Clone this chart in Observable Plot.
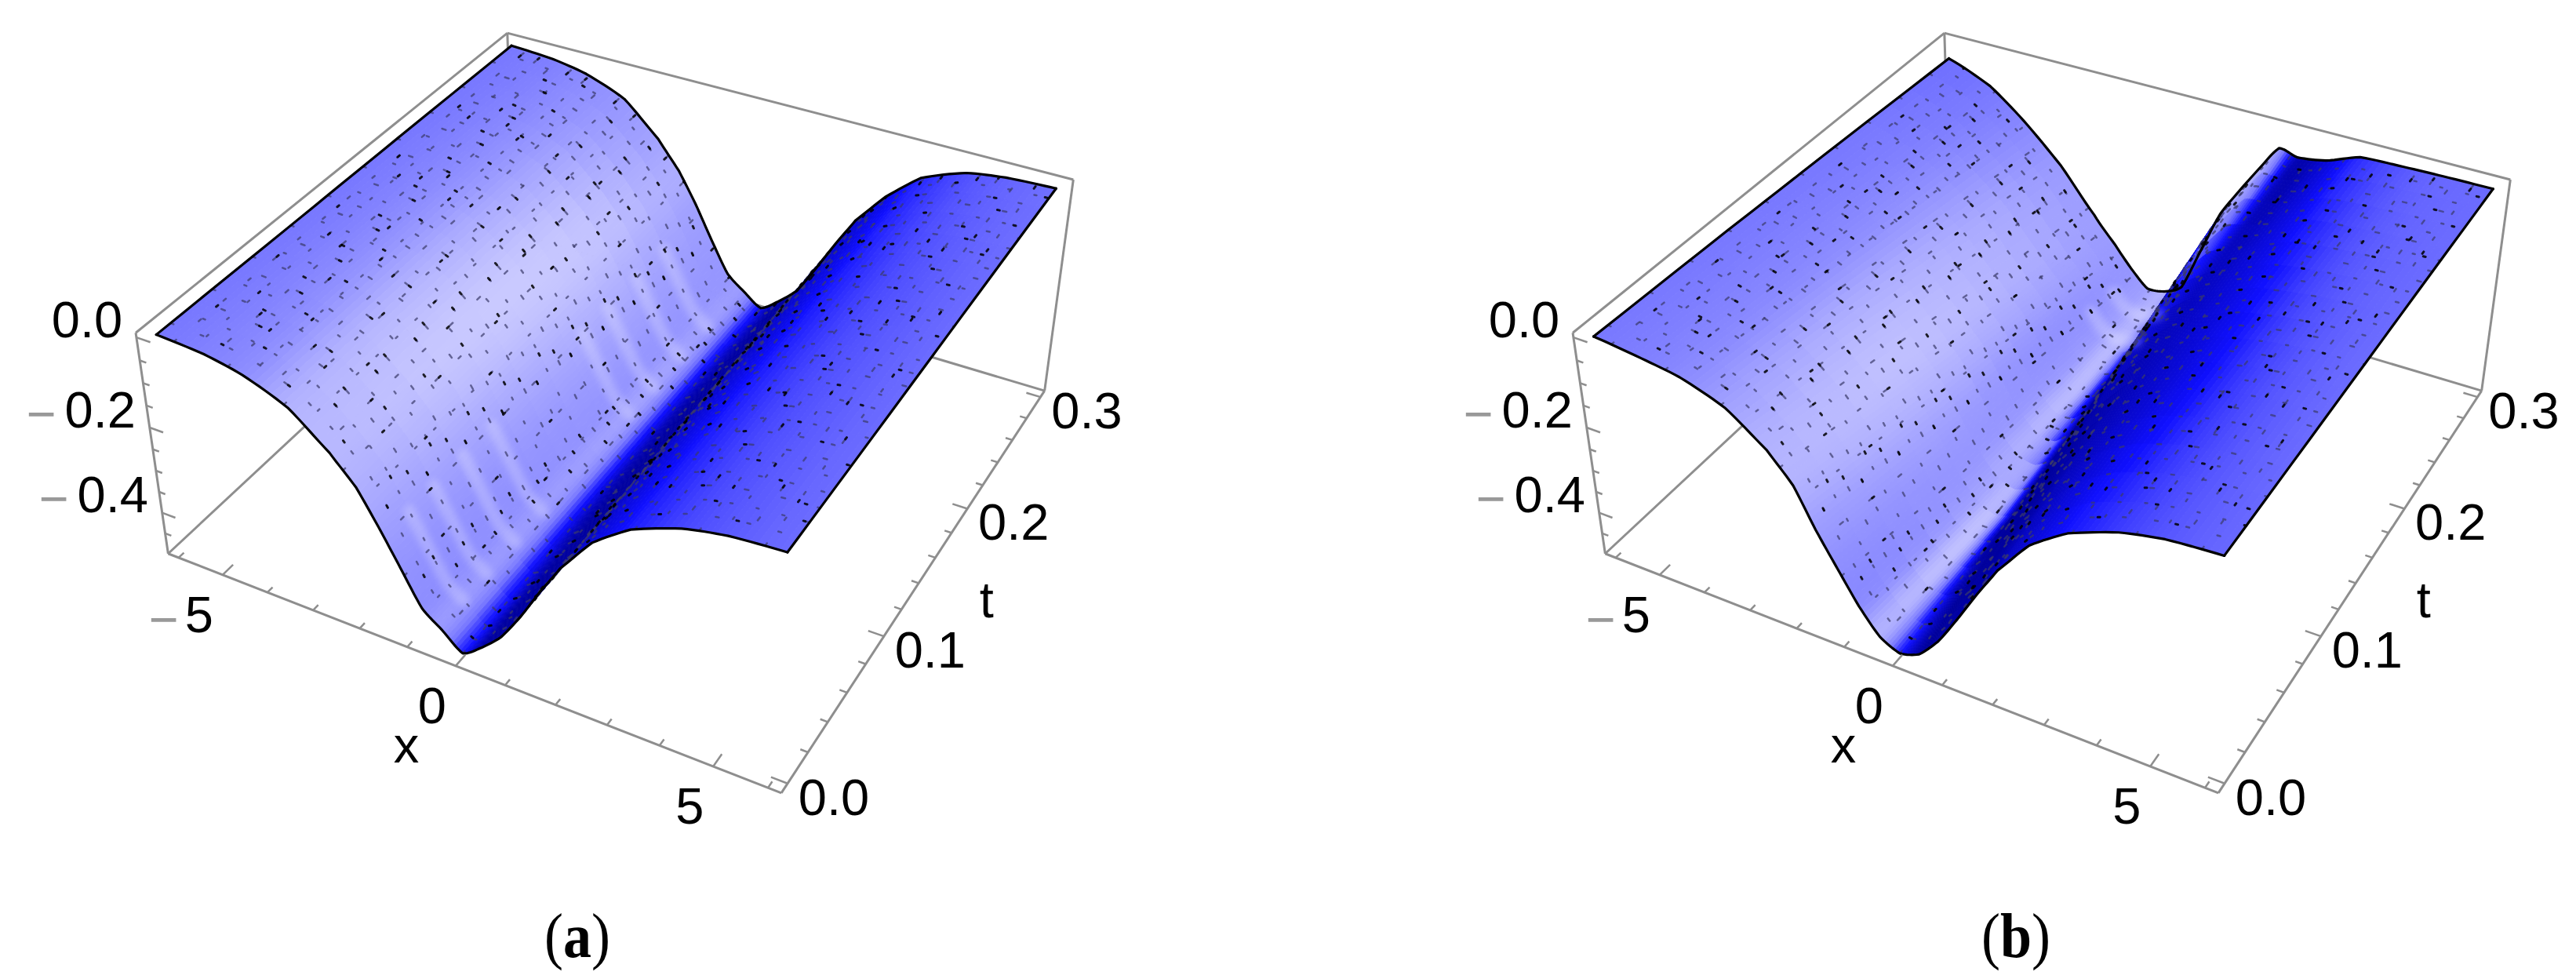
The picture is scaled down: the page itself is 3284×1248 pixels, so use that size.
<!DOCTYPE html>
<html><head><meta charset="utf-8">
<script src="https://cdn.jsdelivr.net/npm/d3@7"></script>
<script src="https://cdn.jsdelivr.net/npm/@observablehq/plot@0.6"></script>
<style>
body{margin:0;background:#fff;width:3284px}
#cap{position:relative;height:138px;width:3284px;font-family:"Liberation Serif",serif;font-size:72px;color:#000}
#cap span{position:absolute;top:41px;transform:translateX(-50%) scaleY(1.12);line-height:84px}
#cap b{font-weight:bold}
</style></head><body>
<div id="plot"></div>
<div id="cap"><span style="left:736px">(<b>a</b>)</span><span style="left:2570px">(<b>b</b>)</span></div>
<script>
// ---------- data ----------
const xs=[-6,-5,-4.2,-3.3,-2.5,-2,-1.6,-1.2,-.8,-.4,0,.4,.8,1.2,1.6,2,2.6,3.3,4.2,5,6];
const ts=[0,.1,.2,.3];
const zA_t0=[-.001,-.008,-.025,-.063,-.132,-.19,-.262,-.34,-.418,-.453,-.49,-.458,-.415,-.35,-.275,-.205,-.124,-.067,-.028,-.01,-.002];
const zA_t1=[-.002,-.008,-.025,-.062,-.133,-.193,-.265,-.343,-.42,-.455,-.489,-.458,-.415,-.348,-.273,-.203,-.124,-.064,-.026,-.01,-.003];
const zA_t2=[-.002,-.009,-.024,-.061,-.134,-.196,-.268,-.347,-.422,-.456,-.488,-.457,-.415,-.347,-.272,-.201,-.125,-.062,-.024,-.009,-.003];
const zA_t3=[-.003,-.009,-.024,-.06,-.135,-.2,-.27,-.35,-.424,-.458,-.487,-.456,-.415,-.345,-.27,-.2,-.125,-.06,-.022,-.009,-.004];
const zB_t0=[-.005,-.017,-.03,-.063,-.125,-.185,-.269,-.342,-.413,-.468,-.49,-.474,-.425,-.355,-.28,-.21,-.13,-.075,-.036,-.017,-.009];
const zB_t1=[-.012,-.035,-.062,-.11,-.19,-.255,-.33,-.405,-.46,-.485,-.47,-.4,-.33,-.255,-.2,-.145,-.09,-.05,-.025,-.012,-.008];
const zB_t2=[-.022,-.055,-.1,-.168,-.26,-.32,-.385,-.445,-.48,-.47,-.41,-.32,-.24,-.17,-.12,-.09,-.06,-.03,-.016,-.009,-.006];
const zB_t3=[-.034,-.075,-.138,-.225,-.325,-.385,-.435,-.475,-.47,-.445,-.34,-.235,-.165,-.1,-.04,-.05,-.04,-.012,-.008,-.006,-.005];
// brightness of the surface at each grid node (0 = navy, 1 = palest)
const sA_t0=[.5,.55,.62,.82,.85,.8,.72,.65,.62,.66,.28,.03,.02,.03,.06,.1,.16,.28,.38,.43,.47];
const sA_t1=[.5,.56,.66,.85,.95,.9,.78,.68,.64,.66,.16,.02,.02,.03,.06,.1,.16,.28,.38,.43,.47];
const sA_t2=[.5,.56,.64,.78,.92,.92,.82,.72,.66,.7,.16,.02,.02,.03,.06,.1,.16,.28,.38,.43,.47];
const sA_t3=[.5,.54,.6,.66,.72,.78,.72,.68,.66,.66,.22,.04,.03,.04,.07,.12,.18,.3,.4,.45,.48];
const sB_t0=[.5,.54,.6,.72,.82,.82,.7,.62,.6,.8,.3,.02,.02,.03,.06,.1,.16,.27,.36,.42,.46];
const sB_t1=[.5,.55,.62,.8,.9,.84,.72,.66,.72,.85,.06,.01,.01,.02,.04,.07,.12,.2,.34,.42,.47];
const sB_t2=[.5,.55,.64,.78,.82,.74,.64,.68,.85,.2,.03,.02,.1,.25,.2,.1,.15,.25,.38,.44,.47];
const sB_t3=[.48,.5,.58,.68,.7,.68,.66,.72,.8,.6,.2,.08,.7,.82,.72,.08,.14,.32,.42,.46,.47];
const shadeDomain=[0,.25,.5,.75,1];
const shadeColors=["#00009c","#1010ff","#7878ff","#a6a6ff","#d0d0ff"];
const ribsA=[.02,.04,.065,.09,.175,.2,.23,.26];
const ribsB=[.25,.275];
const xTicks=[-6,-5,-4,-3,-2,-1,0,1,2,3,4,5,6];
const tTicks=[0,.02,.04,.06,.08,.1,.12,.14,.16,.18,.2,.22,.24,.26,.28,.3];
const zTicks=[0,-.05,-.1,-.15,-.2,-.25,-.3,-.35,-.4,-.45];
const xLabels=[-5,0,5];
const tLabels=[0,.1,.2,.3];
const zLabels=[0,-.2,-.4];
const meshX=[-5.625,-5.25,-4.875,-4.5,-4.125,-3.75,-3.375,-3,-2.625,-2.25,-1.875,-1.5,-1.125,-.75,-.375,0,.375,.75,1.125,1.5,1.875,2.25,2.625,3,3.375,3.75,4.125,4.5,4.875,5.25,5.625];
const meshT=[.01,.02,.03,.04,.05,.06,.07,.08,.09,.1,.11,.12,.13,.14,.15,.16,.17,.18,.19,.2,.21,.22,.23,.24,.25,.26,.27,.28,.29];
const xRange=[-6.24,6.24], tRange=[-.006,.306], zRange=[-.5,.01];
const W=3284,H=1110,panelShift=[0,1832];
// ---------- camera fitted to the box as it appears in the picture ----------
const calibration=[[0,0,0,214,704],[1,0,0,996,1010.5],[1,1,0,1331.6,498],[0,1,0,653,296],[0,0,1,172,425],[0,1,1,647.5,41],[1,1,1,1367,228]];
function solve(A,b){const n=b.length;A=A.map((r,i)=>[...r,b[i]]);for(let i=0;i<n;i++){let p=i;for(let k=i;k<n;k++)if(Math.abs(A[k][i])>Math.abs(A[p][i]))p=k;[A[i],A[p]]=[A[p],A[i]];for(let k=0;k<n;k++)if(k!==i){const f=A[k][i]/A[i][i];for(let j=i;j<=n;j++)A[k][j]-=f*A[i][j];}}return A.map((r,i)=>r[n]/r[i]);}
const eqs=[],rhs=[];
for(const [a,b,c,u,v] of calibration){eqs.push([a,b,c,1,0,0,0,0,-u*a,-u*b,-u*c]);rhs.push(u);eqs.push([0,0,0,0,a,b,c,1,-v*a,-v*b,-v*c]);rhs.push(v);}
const cam=solve(d3.range(11).map(i=>d3.range(11).map(j=>d3.sum(eqs,r=>r[i]*r[j]))),d3.range(11).map(i=>d3.sum(eqs,(r,k)=>r[i]*rhs[k])));
function proj(x,t,z,panel){
  const a=(x-xRange[0])/(xRange[1]-xRange[0]),b=(t-tRange[0])/(tRange[1]-tRange[0]),c=(z-zRange[0])/(zRange[1]-zRange[0]);
  const w=cam[8]*a+cam[9]*b+cam[10]*c+1;
  return {X:(cam[0]*a+cam[1]*b+cam[2]*c+cam[3])/w+panelShift[panel],Y:(cam[4]*a+cam[5]*b+cam[6]*c+cam[7])/w};
}
// ---------- surface sampling ----------
const cr=(p0,p1,p2,p3,f)=>.5*(2*p1+(p2-p0)*f+(2*p0-5*p1+4*p2-p3)*f*f+(3*p1-p0-3*p2+p3)*f*f*f);
function spline(arr,u){const n=arr.length-1,i=Math.min(Math.floor(u),n-1),f=u-i,g=k=>arr[Math.max(0,Math.min(n,k))];return cr(g(i-1),g(i),g(i+1),g(i+2),f);}
function lin(arr,u){const n=arr.length-1,i=Math.min(Math.floor(u),n-1),f=u-i;return arr[i]+(arr[i+1]-arr[i])*f;}
const panels=[
 {z:[zA_t0,zA_t1,zA_t2,zA_t3],s:[sA_t0,sA_t1,sA_t2,sA_t3],ribs:ribsA},
 {z:[zB_t0,zB_t1,zB_t2,zB_t3],s:[sB_t0,sB_t1,sB_t2,sB_t3],ribs:ribsB}];
const uOf=d3.scaleLinear().domain(xs).range(d3.range(xs.length));
const vOf=d3.scaleLinear().domain(ts).range(d3.range(ts.length));
const zField=(m,x,t)=>{const u=uOf(x),v=vOf(t);return lin(m.map(r=>.45*lin(r,u)+.55*spline(r,u)),v);};
const sField=(m,x,t)=>{const u=uOf(x),v=vOf(t);return spline(m.map(r=>spline(r,u)),v);};
const sub=8,subT=5;
const xFine=[];xs.slice(0,-1).forEach((x,i)=>{for(let k=0;k<sub;k++)xFine.push(x+(xs[i+1]-x)*k/sub)});xFine.push(6);
const tFine=d3.range(0,(ts.length-1)*subT+1).map(k=>.3*k/((ts.length-1)*subT));
const cells=[],mesh=[],edges=[],ribs=[];
panels.forEach((P,p)=>{
  const pt=(x,t)=>proj(x,t,zField(P.z,x,t),p);
  for(let j=tFine.length-2;j>=0;j--)for(let i=0;i<xFine.length-1;i++){
    const x0=xFine[i],x1=xFine[i+1],t0=tFine[j],t1=tFine[j+1];
    const s=sField(P.s,(x0+x1)/2,(t0+t1)/2),id=`${p}-${j}-${i}`;
    for(const [x,t] of [[x0,t0],[x1,t0],[x1,t1],[x0,t1],[x0,t0]])cells.push({...pt(x,t),id,s});
  }
  meshX.forEach((x,k)=>{for(const t of tFine)mesh.push({...pt(x,t),id:`${p}x${x}`,g:k%3})});
  meshT.forEach((t,k)=>{for(const x of xFine)mesh.push({...pt(x,t),id:`${p}t${t}`,g:k%3})});
  [0,.3].forEach(t=>{for(const x of xFine)edges.push({...pt(x,t),id:`${p}e${t}`})});
  [-6,6].forEach(x=>{for(const t of tFine)edges.push({...pt(x,t),id:`${p}s${x}`})});
  P.ribs.forEach(t=>{for(const x of xFine.filter(x=>x>=-1.5&&x<=-.45))ribs.push({...pt(x,t),id:`${p}r${t}`})});
});
// ---------- box, ticks, labels ----------
const [xa,xb]=xRange,[ta,tb]=tRange,[za,zb]=zRange;
const hiddenEdges=[[[xa,ta,za],[xa,tb,za]],[[xa,tb,za],[xb,tb,za]],[[xa,tb,za],[xa,tb,zb]]];
const frontEdges=[[[xa,ta,zb],[xa,tb,zb]],[[xa,tb,zb],[xb,tb,zb]],[[xa,ta,zb],[xa,ta,za]],[[xb,tb,zb],[xb,tb,za]],[[xa,ta,za],[xb,ta,za]],[[xb,ta,za],[xb,tb,za]]];
const seg=(a,b,p)=>{const A=proj(...a,p),B=proj(...b,p);return {x1:A.X,y1:A.Y,x2:B.X,y2:B.Y};};
const both=f=>[0,1].flatMap(f);
const ticks=both(p=>[
  ...xTicks.map(x=>{const d=xLabels.includes(x)?.008:.004;return seg([x,ta,za],[x,ta+d,za],p)}),
  ...tTicks.map(t=>{const d=tLabels.includes(t)?.3:.14;return seg([xb,t,za],[xb-d,t,za],p)}),
  ...zTicks.map(z=>{const d=zLabels.includes(z)?.3:.14;return seg([xa,ta,z],[xa+d,ta,z],p)})]);
const label=(v,P,neg)=>({...P,text:Math.abs(v).toFixed(neg),neg:v<0});
const xText=both(p=>xLabels.map(v=>label(v,proj(v,ta,za,p),0)));
const tText=both(p=>tLabels.map(v=>label(v,proj(xb,v,za,p),1)));
const zText=both(p=>zLabels.map(v=>label(v,proj(xa,ta,v,p),1)));
const xTitle=both(p=>[{...proj(0,ta,za,p),text:"x"}]);
const tTitle=both(p=>[{...proj(xb,.15,za,p),text:"t"}]);
const font={fontFamily:"Liberation Sans",fontSize:65,fill:"#000",lineAnchor:"middle"};
const minus={fontFamily:"Liberation Sans",fontSize:65,fill:"#999",lineAnchor:"middle",text:()=>"\u2212"};
const axisStroke={stroke:"#8e8e8e",strokeWidth:3};
const meshLayer=(g,stroke,opacity,width,dash,offset)=>Plot.line(mesh.filter(d=>d.g===g),{x:"X",y:"Y",z:"id",stroke,strokeOpacity:opacity,strokeWidth:width,strokeDasharray:dash,strokeDashoffset:offset});
const chart=Plot.plot({
  width:W,height:H,margin:0,axis:null,
  x:{domain:[0,W],range:[0,W]},y:{domain:[0,H],range:[0,H]},
  color:{type:"linear",domain:shadeDomain,range:shadeColors,interpolate:"rgb",clamp:true},
  marks:[
    Plot.link(both(p=>hiddenEdges.map(e=>seg(...e,p))),{x1:"x1",y1:"y1",x2:"x2",y2:"y2",...axisStroke}),
    Plot.line(cells,{x:"X",y:"Y",z:"id",fill:"s",stroke:"s",strokeWidth:1}),
    Plot.line(ribs,{x:"X",y:"Y",z:"id",stroke:"#fff",strokeOpacity:.22,strokeWidth:16,imageFilter:"blur(4px)"}),
    meshLayer(0,"#3a3a6a",.7,2.5,"4 37",0),
    meshLayer(1,"#3a3a6a",.7,2.5,"3 31",9),
    meshLayer(2,"#3a3a6a",.7,2.5,"5 43",17),
    meshLayer(0,"#000",.85,3,"3 97",30),
    meshLayer(1,"#000",.85,3,"3 113",5),
    meshLayer(2,"#000",.85,3,"3 131",50),
    Plot.line(edges,{x:"X",y:"Y",z:"id",stroke:"#000",strokeWidth:3.2}),
    Plot.link(both(p=>frontEdges.map(e=>seg(...e,p))),{x1:"x1",y1:"y1",x2:"x2",y2:"y2",...axisStroke}),
    Plot.link(ticks,{x1:"x1",y1:"y1",x2:"x2",y2:"y2",stroke:"#8e8e8e",strokeWidth:2.5}),
    Plot.text(xText,{x:"X",y:"Y",text:"text",dx:-30,dy:52,...font}),
    Plot.text(tText,{x:"X",y:"Y",text:"text",dx:59,dy:19,...font}),
    Plot.text(zText,{x:"X",y:"Y",text:"text",dx:-63,dy:-21,...font}),
    Plot.text(xText.filter(d=>d.neg),{x:"X",y:"Y",dx:-75,dy:58,...minus}),
    Plot.text(zText.filter(d=>d.neg),{x:"X",y:"Y",dx:-138,dy:-16,...minus}),
    Plot.text(xTitle,{x:"X",y:"Y",text:"text",dx:-63,dy:102,...font}),
    Plot.text(tTitle,{x:"X",y:"Y",text:"text",dx:76,dy:39,...font})
  ]
});
document.getElementById("plot").append(chart);
</script></body></html>
